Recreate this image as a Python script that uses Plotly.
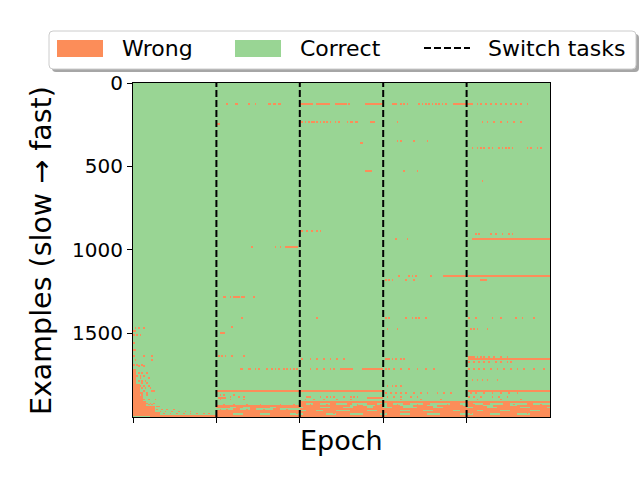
import numpy as np
import plotly.graph_objects as go

# ---- data ----
N_EXAMPLES = 2004
ROW_BIN = 6
N_TASKS = 5
EPOCHS_PER_TASK = 50
Y_TICKS = [0, 500, 1000, 1500]
LABELS = ['Wrong', 'Correct', 'Switch tasks']
COLOR_WRONG = '#fc8d59'
COLOR_CORRECT = '#99d594'

# solid wrong blocks: (row_start, row_end, epoch_start, epoch_end)
WRONG_BLOCKS = [
    (1720, 1810, 0, 2),
    (1810, 1960, 0, 4),
    (1880, 1940, 4, 6),
    (1910, 1960, 6, 8),
    (1940, 1975, 0, 13),
    (1975, 1993, 0, 16),
    (1993, 2004, 10, 250),
]

# thin wrong lines: (row, [(epoch_start, epoch_end), ...])
WRONG_LINES = [
    (126, [(81, 83), (84, 86), (100, 108), (110, 118), (121, 127), (139, 150), (155, 158), (192, 200), (200, 204)]),
    (360, [(136, 138)]),
    (526, [(139, 143)]),
    (936, [(203, 250)]),
    (984, [(91, 99)]),
    (1156, [(186, 200), (201, 250)]),
    (1180, [(208, 212)]),
    (1500, [(52, 55)]),
    (1656, [(201, 250)]),
    (1716, [(64, 66), (124, 132), (137, 150)]),
    (1846, [(50, 100), (100, 150), (201, 250)]),
    (1888, [(51, 56), (140, 150)]),
    (1912, [(100, 250)]),
    (1924, [(101, 104), (108, 112), (118, 122), (128, 131), (140, 146), (152, 156), (162, 166),
            (174, 178), (190, 196), (201, 204), (210, 214), (222, 226), (236, 240)]),
    (1936, [(50, 100), (101, 130), (134, 138), (145, 150), (152, 160), (168, 176), (182, 198),
            (201, 210), (216, 226), (230, 250)]),
    (1946, [(50, 58), (62, 66), (70, 82), (86, 100), (102, 112), (118, 126), (132, 140), (144, 150),
            (155, 162), (170, 180), (186, 200), (204, 212), (218, 232), (238, 248)]),
    (1954, [(60, 64), (70, 74), (84, 88), (100, 250)]),
    (1968, [(50, 100), (104, 110), (114, 122), (130, 140), (146, 160), (166, 174), (180, 192),
            (196, 206), (210, 220), (226, 238), (244, 250)]),
    (1976, [(50, 250)]),
    (1986, [(50, 60), (66, 76), (82, 94), (102, 116), (122, 130), (138, 148), (152, 160), (166, 176),
            (184, 196), (204, 214), (220, 230), (238, 250)]),
]

# isolated wrong points: (row, [epoch, ...])
WRONG_DOTS = [
    (126, [56, 61, 62, 69, 73, 87, 88, 125, 127, 129, 160, 162, 164, 171, 173, 175, 177, 179, 181,
           183, 185, 187, 206, 208, 211, 214, 217, 220, 223, 226, 229, 232, 236]),
    (234, [101, 103, 105, 107, 108, 110, 112, 114, 116, 118, 121, 123, 128, 130, 131, 133, 134,
           142, 143, 144, 158, 209, 212, 216, 220, 224, 228, 232]),
    (246, [50, 51]),
    (348, [158, 160, 168, 176]),
    (390, [203, 206, 208, 210, 213, 215, 219, 221, 223, 225, 227, 236, 238, 242, 244]),
    (526, [162, 170]),
    (588, [209]),
    (886, [101, 104, 107, 110, 112]),
    (906, [205, 207, 214, 217, 221, 225, 227]),
    (936, [157, 164]),
    (984, [71, 85, 88]),
    (1156, [159, 165, 167, 169, 178]),
    (1180, [151, 153, 155, 163, 168]),
    (1284, [54, 55, 58, 60, 61, 62, 63, 65, 66, 72]),
    (1410, [65, 110, 151, 153, 163, 167, 169, 171, 175, 201, 205, 215, 220, 229, 233, 240]),
    (1464, [59]),
    (1470, [1, 3, 6]),
    (1474, [152, 158, 202, 204, 206, 212]),
    (1490, [0, 1]),
    (1510, [0, 2, 4]),
    (1560, [0]),
    (1600, [0, 1]),
    (1640, [0, 6, 11, 51, 53, 55, 59, 66]),
    (1646, [201, 202, 203, 204, 206, 208, 210, 213, 216, 220, 224]),
    (1656, [101, 106, 110, 114, 118, 122, 126, 151, 152, 153, 155, 157, 160, 162]),
    (1660, [1, 11]),
    (1676, [201, 204, 207, 210, 213, 217, 220, 224, 226]),
    (1690, [0, 2, 5]),
    (1700, [3, 6]),
    (1716, [69, 70, 73, 75, 80, 83, 85, 87, 90, 92, 94, 96, 98, 106, 110, 114, 118, 120,
            151, 153, 156, 160, 165, 170, 175, 180, 201, 204, 207, 210, 214, 218, 222, 226, 230, 234, 240, 246]),
    (1740, [3, 5, 8]),
    (1760, [2, 4, 6]),
    (1770, [4, 9]),
    (1780, [203, 206, 209, 212, 218]),
    (1790, [3, 5, 7]),
    (1800, [5, 8]),
    (1816, [152, 155, 157, 160]),
    (1820, [4, 6, 9]),
    (1830, [5, 7, 10]),
    (1850, [6, 11, 12]),
    (1860, [4, 5, 8, 151, 154, 157, 160, 163, 168, 172, 176, 182, 186, 190, 202, 205, 210, 215, 220, 225, 230]),
    (1870, [5, 8, 52, 54, 60]),
    (1884, [58, 63, 66, 104, 105, 106, 112, 116, 118, 120, 126, 130, 132, 134, 152, 156, 160, 166, 170,
            201, 204, 208, 215, 219, 224]),
    (1900, [6, 9, 13, 52, 58, 66, 103, 108, 114, 122, 130, 160, 172, 184, 206, 220, 232]),
    (1920, [8, 10, 12]),
    (1930, [9, 11, 54, 60, 68, 76, 88, 96, 106, 116, 134, 148, 158, 170, 188, 204, 212, 228, 244]),
    (1940, [14, 15]),
    (1960, [14, 17, 20, 24, 52, 56, 68, 78, 92, 108, 126, 142, 164, 178, 196, 214, 232, 246]),
    (1970, [16, 19, 23, 27, 31, 34]),
    (1982, [18, 22, 26, 30, 34, 38, 42, 45, 56, 72, 98, 120, 150, 172, 202, 236]),
]

# ---- build the example x epoch matrix (1 = wrong, 0 = correct) ----
n_epochs = N_TASKS * EPOCHS_PER_TASK
n_bins = N_EXAMPLES // ROW_BIN
z = np.zeros((n_bins, n_epochs), dtype=int)
DENSE_ROWS = 1900  # dots below this row stay one bin high


def mark(r0, r1, e0, e1):
    b0 = max(int(r0 // ROW_BIN), 0)
    b1 = min(max(int(np.ceil(r1 / ROW_BIN)), b0 + 1), n_bins)
    z[b0:b1, e0:e1] = 1


for r0, r1, e0, e1 in WRONG_BLOCKS:
    mark(r0, r1, e0, e1)
for row, segs in WRONG_LINES:
    for e0, e1 in segs:
        mark(row - 3, row + 3, e0, e1)
for row, eps in WRONG_DOTS:
    h = 0 if row >= DENSE_ROWS else 3
    for e in eps:
        mark(row - h, row + h, e, e + 1)

fig = go.Figure(go.Heatmap(
    z=z, x0=0.5, dx=1, y0=ROW_BIN / 2, dy=ROW_BIN,
    zmin=0, zmax=1,
    colorscale=[[0, COLOR_CORRECT], [0.5, COLOR_CORRECT], [0.5, COLOR_WRONG], [1, COLOR_WRONG]],
    showscale=False, hoverinfo='skip',
))

# task switches
for t in range(1, N_TASKS):
    fig.add_vline(x=t * EPOCHS_PER_TASK, line=dict(color='black', width=2, dash='7px,3px'))

# ---- layout (plot area 133..550 x 83..417 px) ----
L, R, T, B = 133, 550, 83, 417
W, H = R - L, B - T


def px(xp):
    return (xp - L) / W


def py(yp):
    return (B - yp) / H


FONT = 'DejaVu Sans'
fig.update_layout(
    width=640, height=480,
    margin=dict(l=L, r=640 - R, t=T, b=480 - B),
    plot_bgcolor='white', paper_bgcolor='white',
    font=dict(family=FONT, color='black'),
    showlegend=False,
)
fig.update_xaxes(
    range=[0, n_epochs], tickvals=[t * EPOCHS_PER_TASK for t in range(N_TASKS)],
    showticklabels=False, ticks='outside', ticklen=5, tickcolor='black',
    showline=True, linecolor='black', linewidth=1, mirror=True, showgrid=False, zeroline=False,
)
fig.update_yaxes(
    range=[N_EXAMPLES, 0], tickvals=Y_TICKS, tickfont=dict(size=20),
    ticks='outside', ticklen=5, tickcolor='black',
    showline=True, linecolor='black', linewidth=1, mirror=True, showgrid=False, zeroline=False,
)

# axis titles
fig.add_annotation(text='Epoch', x=px(341), y=py(441), xref='paper', yref='paper',
                   showarrow=False, font=dict(size=27), xanchor='center', yanchor='middle')
fig.add_annotation(text='Examples (slow \u2192 fast)', x=px(41), y=py(251), xref='paper', yref='paper',
                   showarrow=False, font=dict(size=28.5), textangle=-90, xanchor='center', yanchor='middle')


# legend drawn by hand (box with shadow)
def rounded(x0, y0, x1, y1, r):
    return (f'M {px(x0 + r)},{py(y0)} L {px(x1 - r)},{py(y0)} Q {px(x1)},{py(y0)} {px(x1)},{py(y0 + r)} '
            f'L {px(x1)},{py(y1 - r)} Q {px(x1)},{py(y1)} {px(x1 - r)},{py(y1)} '
            f'L {px(x0 + r)},{py(y1)} Q {px(x0)},{py(y1)} {px(x0)},{py(y1 - r)} '
            f'L {px(x0)},{py(y0 + r)} Q {px(x0)},{py(y0)} {px(x0 + r)},{py(y0)} Z')


fig.add_shape(type='path', path=rounded(52, 34, 639, 72, 4), xref='paper', yref='paper',
              fillcolor='rgba(0,0,0,0.35)', line=dict(width=0))
fig.add_shape(type='path', path=rounded(49, 31, 636, 69, 4), xref='paper', yref='paper',
              fillcolor='white', line=dict(color='#cccccc', width=1))
fig.add_shape(type='rect', x0=px(57), x1=px(103), y0=py(57), y1=py(40), xref='paper', yref='paper',
              fillcolor=COLOR_WRONG, line=dict(width=0))
fig.add_shape(type='rect', x0=px(235), x1=px(281), y0=py(57), y1=py(40), xref='paper', yref='paper',
              fillcolor=COLOR_CORRECT, line=dict(width=0))
fig.add_shape(type='line', x0=px(424), x1=px(470), y0=py(48), y1=py(48), xref='paper', yref='paper',
              line=dict(color='black', width=2, dash='7px,3px'))
for label, xl in zip(LABELS, [120, 298, 486]):
    fig.add_annotation(text=label, x=px(xl), y=py(49), xref='paper', yref='paper', showarrow=False,
                       font=dict(size=22), xanchor='left', yanchor='middle')

# page body margin would shift the figure by 8px
fig.write_html('out.html', config={'displayModeBar': False},
               post_script="document.body.style.margin='0';")
